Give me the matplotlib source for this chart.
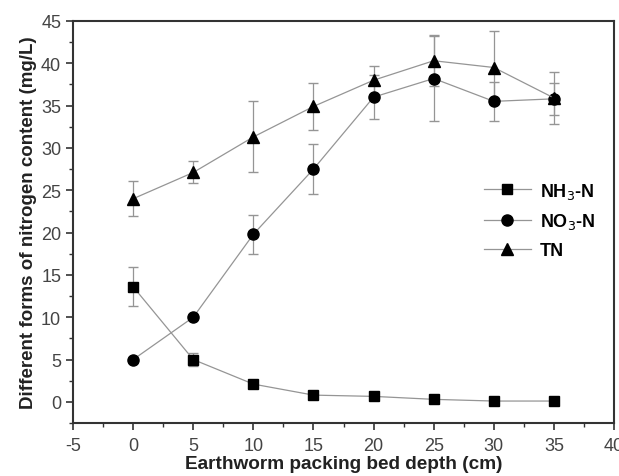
import numpy as np
from matplotlib import pyplot as plt
from matplotlib.ticker import MultipleLocator

plt.rcParams['font.family'] = ['Liberation Sans', 'DejaVu Sans']
plt.rcParams['axes.unicode_minus'] = False

# data
depth = [0, 5, 10, 15, 20, 25, 30, 35]
nh3 = [13.6, 5.0, 2.1, 0.8, 0.65, 0.3, 0.1, 0.1]
nh3_err = [2.3, 0.8, 0, 0, 0, 0, 0, 0]
no3 = [5.0, 10.0, 19.8, 27.5, 36.0, 38.2, 35.5, 35.8]
no3_err = [0, 0, 2.3, 3.0, 2.6, 5.0, 2.3, 1.9]
tn = [24.0, 27.1, 31.3, 34.9, 38.0, 40.3, 39.5, 35.9]
tn_err = [2.1, 1.3, 4.2, 2.8, 1.7, 3.0, 4.3, 3.1]

fig = plt.figure(figsize=(6.19, 4.77), dpi=100)
ax = fig.add_axes([0.118, 0.111, 0.874, 0.843])

lc = '#959595'
h1 = ax.errorbar(depth, nh3, yerr=nh3_err, color=lc, lw=0.9, ecolor=lc, elinewidth=0.9,
                 capsize=3.5, marker='s', ms=7, mfc='black', mec='black', label=r'NH$_3$-N')
h2 = ax.errorbar(depth, no3, yerr=no3_err, color=lc, lw=0.9, ecolor=lc, elinewidth=0.9,
                 capsize=3.5, marker='o', ms=8, mfc='black', mec='black', label=r'NO$_3$-N')
h3 = ax.errorbar(depth, tn, yerr=tn_err, color=lc, lw=0.9, ecolor=lc, elinewidth=0.9,
                 capsize=3.5, marker='^', ms=9, mfc='black', mec='black', label='TN')

ax.set_xlim(-5, 40)
ax.set_ylim(-2.5, 45)
ax.xaxis.set_major_locator(MultipleLocator(5))
ax.xaxis.set_minor_locator(MultipleLocator(2.5))
ax.yaxis.set_major_locator(MultipleLocator(5))
ax.yaxis.set_minor_locator(MultipleLocator(2.5))
ax.tick_params(which='major', direction='out', length=5, width=1.2, labelsize=13,
               color='#333333', labelcolor='#444444')
ax.tick_params(which='minor', direction='out', length=3, width=1.0, color='#333333')
ax.tick_params(axis='x', which='major', pad=5)
ax.tick_params(top=False, right=False, which='both')
for s in ax.spines.values():
    s.set_linewidth(1.5)
    s.set_color('#333333')

ax.set_xlabel('Earthworm packing bed depth (cm)', fontsize=13.7, fontweight='bold',
              labelpad=1, color='#222222')
ax.set_ylabel('Different forms of nitrogen content (mg/L)', fontsize=13.5, fontweight='bold',
              labelpad=3, color='#222222')

leg = ax.legend([h1[0], h2[0], h3[0]], [r'NH$_3$-N', r'NO$_3$-N', 'TN'],
                loc='center right', bbox_to_anchor=(0.995, 0.505), frameon=False,
                prop={'weight': 'bold', 'size': 13}, handlelength=2.6, labelspacing=0.6,
                handletextpad=0.5)

plt.savefig('out.png', dpi=100)
